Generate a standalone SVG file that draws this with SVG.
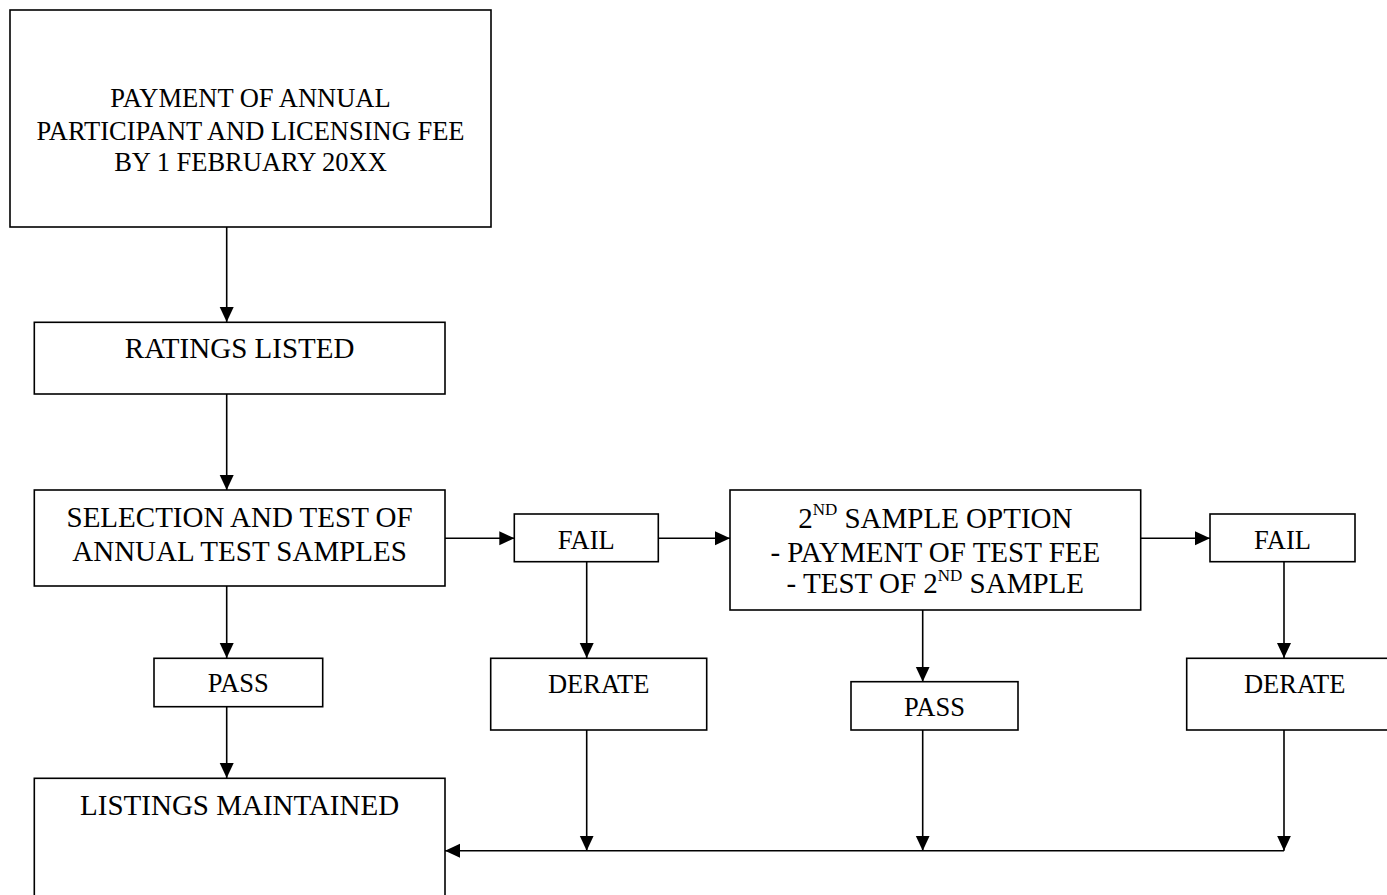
<svg xmlns="http://www.w3.org/2000/svg" width="1387" height="895" viewBox="0 0 1387 895">
<style>
.box{fill:#fff;stroke:#000;stroke-width:1.6}
.t{font-family:"Liberation Serif","Times New Roman",serif;fill:#000;text-anchor:middle}
.s{font-size:26.5px}
.l{font-size:29px}
.sup{font-size:17px}
.c{fill:none;stroke:#000;stroke-width:1.6}
</style>
<defs>
<marker id="ah" markerUnits="userSpaceOnUse" markerWidth="16" markerHeight="15" refX="15" refY="7" orient="auto">
<path d="M0,0 L15,7 L0,14 z" fill="#000"/>
</marker>
</defs>
<rect width="1387" height="895" fill="#fff"/>
<g id="connectors">
<line class="c" x1="226.7" y1="227" x2="226.7" y2="322" marker-end="url(#ah)"/>
<line class="c" x1="226.7" y1="394" x2="226.7" y2="490" marker-end="url(#ah)"/>
<line class="c" x1="226.7" y1="586" x2="226.7" y2="658" marker-end="url(#ah)"/>
<line class="c" x1="226.7" y1="706.7" x2="226.7" y2="778" marker-end="url(#ah)"/>
<line class="c" x1="441.7" y1="538.3" x2="514.3" y2="538.3" marker-end="url(#ah)"/>
<line class="c" x1="658.3" y1="538.3" x2="730" y2="538.3" marker-end="url(#ah)"/>
<line class="c" x1="1138" y1="538.3" x2="1210" y2="538.3" marker-end="url(#ah)"/>
<line class="c" x1="586.7" y1="561.7" x2="586.7" y2="658" marker-end="url(#ah)"/>
<line class="c" x1="1284" y1="561.7" x2="1284" y2="658" marker-end="url(#ah)"/>
<line class="c" x1="922.7" y1="610" x2="922.7" y2="681.7" marker-end="url(#ah)"/>
<line class="c" x1="586.7" y1="730" x2="586.7" y2="850.7" marker-end="url(#ah)"/>
<line class="c" x1="922.7" y1="730" x2="922.7" y2="850.7" marker-end="url(#ah)"/>
<line class="c" x1="1284" y1="730" x2="1284" y2="850.7" marker-end="url(#ah)"/>
<line class="c" x1="1284" y1="850.7" x2="445" y2="850.7" marker-end="url(#ah)"/>
</g>
<g id="payment">
<rect class="box" x="10" y="10" width="481" height="217"/>
<text class="t s" x="250.5" y="107.3">PAYMENT OF ANNUAL</text>
<text class="t s" x="250.5" y="139.5">PARTICIPANT AND LICENSING FEE</text>
<text class="t s" x="250.5" y="170.7">BY 1 FEBRUARY 20XX</text>
</g>
<g id="ratings">
<rect class="box" x="34.3" y="322.3" width="410.7" height="71.7"/>
<text class="t l" x="239.6" y="358.3">RATINGS LISTED</text>
</g>
<g id="selection">
<rect class="box" x="34.3" y="490" width="410.7" height="96"/>
<text class="t l" x="239.6" y="526.7">SELECTION AND TEST OF</text>
<text class="t l" x="239.6" y="561">ANNUAL TEST SAMPLES</text>
</g>
<g id="pass1">
<rect class="box" x="154" y="658.3" width="168.7" height="48.4"/>
<text class="t s" x="238.3" y="692.3">PASS</text>
</g>
<g id="listings">
<rect class="box" x="34.3" y="778.3" width="410.7" height="140"/>
<text class="t l" x="239.6" y="815">LISTINGS MAINTAINED</text>
</g>
<g id="fail1">
<rect class="box" x="514.3" y="514" width="144" height="47.7"/>
<text class="t s" x="586.3" y="549.3">FAIL</text>
</g>
<g id="derate1">
<rect class="box" x="490.7" y="658.3" width="216" height="71.7"/>
<text class="t s" x="598.7" y="693.3">DERATE</text>
</g>
<g id="second">
<rect class="box" x="730" y="490" width="410.7" height="120"/>
<text class="t l" x="935.3" y="528.3">2<tspan class="sup" dy="-13">ND</tspan><tspan dy="13"> SAMPLE OPTION</tspan></text>
<text class="t l" x="935.3" y="561.7">- PAYMENT OF TEST FEE</text>
<text class="t l" x="935.3" y="593.3">- TEST OF 2<tspan class="sup" dy="-12">ND</tspan><tspan dy="12"> SAMPLE</tspan></text>
</g>
<g id="pass2">
<rect class="box" x="851" y="681.7" width="167" height="48.3"/>
<text class="t s" x="934.5" y="716">PASS</text>
</g>
<g id="fail2">
<rect class="box" x="1210" y="514" width="145" height="47.7"/>
<text class="t s" x="1282.5" y="549.3">FAIL</text>
</g>
<g id="derate2">
<rect class="box" x="1186.7" y="658.3" width="216" height="71.7"/>
<text class="t s" x="1294.7" y="693.3">DERATE</text>
</g>
</svg>
